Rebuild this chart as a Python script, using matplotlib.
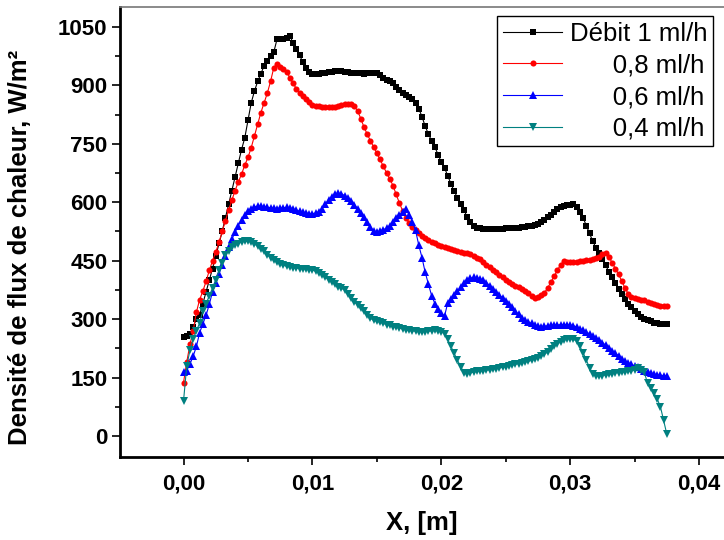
import matplotlib.pyplot as plt
import numpy as np
from matplotlib.ticker import MultipleLocator, FixedLocator, FixedFormatter

plt.rcParams['font.family'] = ['Liberation Sans', 'DejaVu Sans']

# x positions (m), one reading every 0.00025 m
x = np.linspace(0, 0.0375, 151)

debit_1 = [253, 258, 262, 280, 300, 310, 340, 370, 400, 430,
           462, 495, 525, 560, 595, 630, 665, 700, 735, 765,
           810, 855, 885, 910, 930, 950, 963, 975, 985, 1018,
           1020, 1020, 1022, 1026, 1010, 993, 978, 960, 945, 935,
           930, 928, 930, 932, 933, 934, 935, 936, 937, 936,
           935, 934, 933, 933, 932, 931, 930, 931, 932, 932,
           931, 926, 920, 915, 910, 905, 897, 888, 880, 875,
           870, 866, 855, 840, 820, 795, 775, 758, 742, 722,
           703, 688, 668, 647, 628, 612, 595, 580, 563, 549,
           540, 535, 533, 532, 531, 531, 531, 531, 532, 532,
           533, 533, 534, 534, 535, 536, 537, 538, 540, 542,
           545, 550, 555, 561, 568, 576, 584, 589, 591, 592,
           594, 596, 588, 575, 560, 540, 520, 500, 483, 470,
           455, 438, 422, 407, 393, 378, 365, 352, 340, 330,
           320, 312, 306, 301, 297, 294, 291, 289, 288, 287,
           287]

debit_08 = [137, 190, 235, 270, 318, 350, 372, 397, 425, 450,
            472, 497, 525, 552, 580, 605, 630, 652, 672, 695,
            715, 740, 770, 800, 830, 855, 880, 910, 945, 955,
            948, 943, 935, 920, 905, 892, 880, 872, 865, 857,
            850, 847, 846, 845, 845, 845, 845, 845, 847, 849,
            851, 853, 852, 846, 835, 815, 793, 775, 758, 742,
            726, 710, 692, 676, 660, 643, 620, 598, 578, 560,
            547, 537, 528, 520, 514, 508, 503, 499, 495, 491,
            488, 485, 482, 479, 477, 475, 473, 471, 469, 466,
            462, 458, 454, 447, 440, 433, 426, 420, 414, 407,
            400, 395, 390, 386, 382, 378, 372, 366, 360, 355,
            358, 362, 368, 380, 395, 410, 425, 440, 448, 447,
            446, 446, 447, 448, 449, 451, 452, 454, 456, 460,
            468, 470, 460, 445, 430, 415, 398, 380, 365, 358,
            355, 352, 350, 348, 345, 342, 339, 337, 335, 334,
            333]

debit_06 = [165, 168, 185, 205, 230, 265, 288, 310, 338, 370,
            392, 415, 440, 462, 485, 505, 523, 540, 555, 568,
            578, 584, 588, 590, 590, 589, 587, 586, 585, 584,
            585, 586, 587, 586, 583, 580, 577, 574, 572, 571,
            571, 572, 576, 584, 595, 606, 614, 620, 623, 622,
            617, 610, 603, 594, 584, 573, 562, 550, 537, 526,
            523, 527, 530, 533, 540, 550, 560, 568, 575, 582,
            568, 550, 528, 490, 458, 420, 390, 360, 340, 325,
            315, 308, 342, 352, 362, 372, 382, 392, 400, 405,
            407, 406, 404, 400, 394, 386, 378, 369, 362, 355,
            346, 338, 330, 320, 312, 304, 298, 293, 289, 285,
            282, 281, 282, 283, 284, 285, 285, 286, 286, 286,
            285, 283, 280, 276, 271, 267, 262, 257, 252, 247,
            240, 233, 226, 219, 213, 206, 199, 193, 188, 184,
            180, 176, 172, 168, 164, 161, 159, 157, 156, 155,
            154]

debit_04 = [90, 180, 220, 250, 270, 290, 322, 340, 360, 380,
            400, 425, 445, 465, 476, 484, 490, 494, 498, 500,
            500, 498, 493, 487, 481, 474, 465, 458, 451, 446,
            441, 438, 436, 434, 432, 431, 430, 429, 428, 427,
            426, 423, 419, 414, 408, 401, 395, 389, 383, 379,
            375, 365, 355, 345, 336, 328, 320, 310, 302, 297,
            295, 292, 289, 286, 284, 281, 279, 277, 275, 273,
            271, 270, 269, 268, 268, 268, 269, 270, 271, 270,
            268, 262, 248, 230, 212, 195, 178, 163, 160, 162,
            164, 166, 167, 168, 169, 170, 172, 173, 175, 176,
            178, 180, 182, 184, 186, 188, 190, 192, 194, 198,
            201, 205, 210, 216, 223, 230, 236, 242, 247, 250,
            250, 248, 244, 230, 214, 195, 175, 160, 155, 154,
            155, 157, 158, 160, 162, 163, 164, 165, 166, 167,
            170, 174, 170, 164, 135, 122, 110, 95, 75, 40,
            4]

labels = ['Débit 1 ml/h', '      0,8 ml/h', '      0,6 ml/h', '      0,4 ml/h']
xticks = [0, 0.01, 0.02, 0.03, 0.04]
xtick_labels = ['0,00', '0,01', '0,02', '0,03', '0,04']
yticks = [0, 150, 300, 450, 600, 750, 900, 1050]

fig = plt.figure(figsize=(7.24, 5.4), dpi=100)
ax = fig.add_axes([0.1657, 0.1543, 0.8343, 0.8333])

ax.plot(x, debit_1, color='black', marker='s', ms=3.8, mew=0, lw=0.8, label=labels[0])
ax.plot(x, debit_08, color='red', marker='o', ms=4.4, mew=0, lw=0.8, label=labels[1])
ax.plot(x, debit_06, color='blue', marker='^', ms=5.2, mew=0, lw=0.8, label=labels[2])
ax.plot(x, debit_04, color='#008080', marker='v', ms=5.2, mew=0, lw=0.8, label=labels[3])

ax.set_xlim(-0.00493, 0.04193)
ax.set_ylim(-53, 1102)

ax.xaxis.set_major_locator(FixedLocator(xticks))
ax.xaxis.set_major_formatter(FixedFormatter(xtick_labels))
ax.xaxis.set_minor_locator(MultipleLocator(0.005))
ax.yaxis.set_major_locator(FixedLocator(yticks))
ax.yaxis.set_minor_locator(MultipleLocator(75))

ax.tick_params(which='both', direction='out', width=1.2, top=False, right=False)
ax.tick_params(which='major', length=6)
ax.tick_params(which='minor', length=3.5)
ax.tick_params(axis='x', which='major', labelsize=16, pad=6)
ax.tick_params(axis='y', which='major', labelsize=16, pad=3)
for lab in ax.get_xticklabels() + ax.get_yticklabels():
    lab.set_fontweight('bold')

for side in ['left', 'bottom']:
    ax.spines[side].set_linewidth(2)
ax.spines['top'].set_linewidth(1.2)
ax.spines['top'].set_color('#777777')
ax.spines['right'].set_visible(False)

ax.set_xlabel('X, [m]', fontsize=18.5, fontweight='bold', labelpad=12)
ax.set_ylabel('Densité de flux de chaleur, W/m²', fontsize=18.5, fontweight='bold')
ax.yaxis.set_label_coords(-0.145, 0.464)

leg = ax.legend(loc='upper right', bbox_to_anchor=(0.9848, 0.9704),
                bbox_transform=fig.transFigure, borderaxespad=0,
                fontsize=18.5, fancybox=False, framealpha=1, edgecolor='black',
                handlelength=2.3, handletextpad=0.3, labelspacing=0.3,
                borderpad=0.22)
leg.get_frame().set_linewidth(1)

plt.savefig('out.png', dpi=100)
